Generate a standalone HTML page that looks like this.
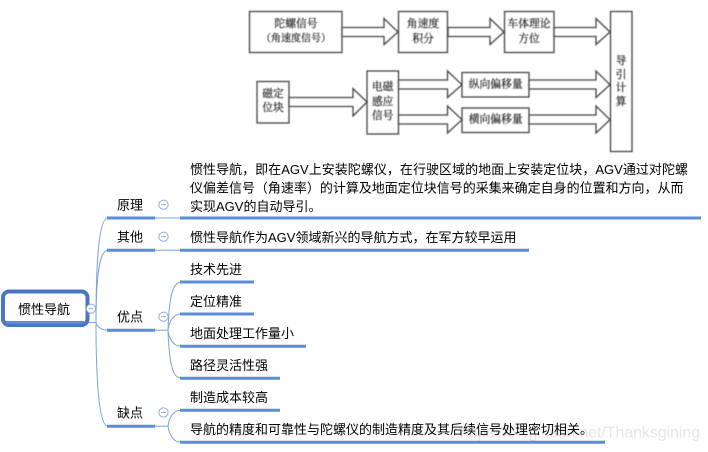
<!DOCTYPE html>
<html lang="zh">
<head>
<meta charset="utf-8">
<title>惯性导航</title>
<style>
html,body{margin:0;padding:0;background:#fff;width:708px;height:452px;overflow:hidden}
svg{display:block}
.d text{font-family:"Liberation Serif","Noto Serif CJK SC",serif;font-size:10.8px;fill:#222;stroke:#222;stroke-width:.2;text-anchor:middle;dominant-baseline:central}
.d rect,.d polygon{fill:#fff;stroke:#444;stroke-width:1.3}
.m text{font-family:"Liberation Sans","Noto Sans CJK SC",sans-serif;font-size:13px;fill:#000;dominant-baseline:central}
.t{stroke:#5b8dd6;stroke-width:3;fill:none}
.n{stroke:#7ba3e0;stroke-width:1;fill:none}
.c circle{fill:#fff;stroke:#8dabdf;stroke-width:1}
.c line{stroke:#8dabdf;stroke-width:1}
</style>
</head>
<body>
<svg width="708" height="452" viewBox="0 0 708 452" xmlns="http://www.w3.org/2000/svg">
<g class="d" style="filter:blur(.45px)">
<rect x="249.5" y="11.5" width="92.5" height="41"/>
<rect x="398.5" y="11.5" width="49" height="41"/>
<rect x="504.5" y="11.5" width="49.5" height="41"/>
<rect x="610.5" y="11.5" width="21.5" height="140"/>
<rect x="257" y="81.5" width="32" height="41.5"/>
<rect x="367" y="71" width="31.5" height="63"/>
<rect x="462" y="72.5" width="67" height="24.5"/>
<rect x="462" y="108" width="67" height="24.5"/>
<polygon points="342,27.5 384,27.5 384,18.5 398,32 384,44.5 384,36.5 342,36.5"/>
<polygon points="448,27.5 490,27.5 490,18.5 504,32 490,44.5 490,36.5 448,36.5"/>
<polygon points="554,27.5 596,27.5 596,18.5 610,32 596,44.5 596,36.5 554,36.5"/>
<polygon points="289,97.5 353,97.5 353,88.5 367,102 353,116 353,106.5 289,106.5"/>
<polygon points="398.5,80 447.5,80 447.5,71 462,84.7 447.5,97.5 447.5,89 398.5,89"/>
<polygon points="398.5,115 447.5,115 447.5,106 462,119.7 447.5,133 447.5,124 398.5,124"/>
<polygon points="529,80 596,80 596,71 610,84.7 596,97.5 596,89 529,89"/>
<polygon points="529,115 596,115 596,106 610,119.7 596,133 596,124 529,124"/>
<text x="296" y="24">陀螺信号</text>
<text x="296" y="39" style="font-size:10px">（角速度信号）</text>
<text x="423" y="24">角速度</text>
<text x="423" y="39">积分</text>
<text x="529" y="24">车体理论</text>
<text x="529" y="39">方位</text>
<text x="621" y="61">导</text>
<text x="621" y="75">引</text>
<text x="621" y="88">计</text>
<text x="621" y="102">算</text>
<text x="273" y="94">磁定</text>
<text x="273" y="108">位块</text>
<text x="382.7" y="87">电磁</text>
<text x="382.7" y="102">感应</text>
<text x="382.7" y="116">信号</text>
<text x="495.7" y="84.7">纵向偏移量</text>
<text x="495.7" y="119.7">横向偏移量</text>
</g>

<text x="460" y="433" textLength="240" style="font-family:'Liberation Sans',sans-serif;font-size:16px;fill:#d4d4d4;opacity:.6;dominant-baseline:central">https://blog.csdn.net/Thanksgining</text>

<g>
<path class="n" d="M88 322.5H96"/>
<path class="n" d="M96 322.5C96 270 98 218 108 218"/>
<path class="n" d="M96 322.5C96 285 98 250.3 108 250.3"/>
<path class="n" d="M96 322.5C97 327 102 330.3 108 330.3"/>
<path class="n" d="M96 322.5C96 370 98 426.3 108 426.3"/>
<path class="n" d="M155 218H180M155 250.3H180M155 330.3H168M155 426.3H168"/>
<path class="n" d="M168 330.3C169 300 172 282 181 282"/>
<path class="n" d="M168 330.3C169 322 173 314 181 314"/>
<path class="n" d="M168 330.3C169 338 173 346.3 181 346.3"/>
<path class="n" d="M168 330.3C169 360 172 378.3 181 378.3"/>
<path class="n" d="M168 426.3C169 418 173 410.3 181 410.3"/>
<path class="n" d="M168 426.3C169 434 173 442.3 181 442.3"/>
<path class="t" d="M107 218H155M180 218H701M107 250.3H155M180 250.3H529M107 330.3H155M107 426.3H155"/>
<path class="t" d="M180 282H254M180 314H254M180 346.3H306M180 378.3H280M180 410.3H280M180 442.3H605"/>
<rect x="3" y="291.5" width="84.5" height="33.5" rx="6" ry="6" fill="#fff" stroke="#4a74c4" stroke-width="4"/>
<path d="M6 322.5H84" stroke="#5b8dd6" stroke-width="3" fill="none"/>
</g>

<g class="c">
<circle cx="91" cy="308.7" r="4.6"/><line x1="88.5" y1="308.7" x2="93.5" y2="308.7"/>
<circle cx="163.5" cy="204.7" r="4.6"/><line x1="161" y1="204.7" x2="166" y2="204.7"/>
<circle cx="163.5" cy="236.7" r="4.6"/><line x1="161" y1="236.7" x2="166" y2="236.7"/>
<circle cx="163.5" cy="316.7" r="4.6"/><line x1="161" y1="316.7" x2="166" y2="316.7"/>
<circle cx="163.5" cy="412.5" r="4.6"/><line x1="161" y1="412.5" x2="166" y2="412.5"/>
</g>

<g class="m">
<text x="18" y="309.5">惯性导航</text>
<text x="117" y="205">原理</text>
<text x="117" y="237">其他</text>
<text x="117" y="317">优点</text>
<text x="117" y="413">缺点</text>
<text x="190" y="169.5" textLength="498">惯性导航，即在AGV上安装陀螺仪，在行驶区域的地面上安装定位块，AGV通过对陀螺</text>
<text x="190" y="188" textLength="493.5">仪偏差信号（角速率）的计算及地面定位块信号的采集来确定自身的位置和方向，从而</text>
<text x="190" y="206.5">实现AGV的自动导引。</text>
<text x="190" y="237.5">惯性导航作为AGV领域新兴的导航方式，在军方较早运用</text>
<text x="190" y="269.5">技术先进</text>
<text x="190" y="301.5">定位精准</text>
<text x="190" y="333.5">地面处理工作量小</text>
<text x="190" y="365.5">路径灵活性强</text>
<text x="190" y="397.5">制造成本较高</text>
<text x="190" y="429.5">导航的精度和可靠性与陀螺仪的制造精度及其后续信号处理密切相关。</text>
</g>
</svg>
</body>
</html>
